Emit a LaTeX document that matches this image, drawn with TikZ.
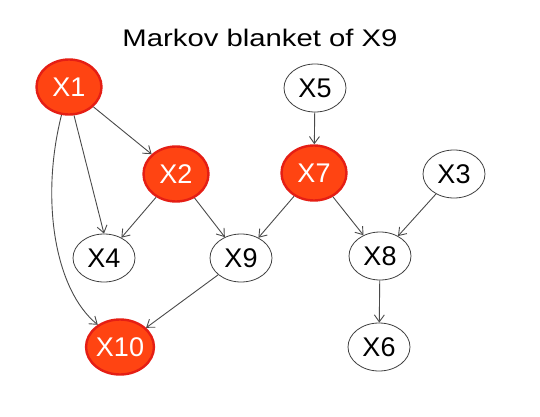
\documentclass[tikz,border=0pt]{standalone}
\usepackage{fontspec}
\setmainfont{Liberation Sans}
\usetikzlibrary{arrows.meta,shapes.geometric}
\definecolor{redfill}{HTML}{FF4412}
\definecolor{redborder}{HTML}{E51E14}
\definecolor{edgegray}{HTML}{4A4A4A}
\tikzset{
  rednode/.style={ellipse, draw=redborder, line width=2.4pt, fill=redfill, text=white,
    minimum width=65pt, minimum height=55pt, inner sep=0pt, font=\fontsize{27}{27}\selectfont},
  whitenode/.style={ellipse, draw=black!75, line width=0.8pt, fill=white, text=black,
    minimum width=62pt, minimum height=48pt, inner sep=0pt, font=\fontsize{27}{27}\selectfont},
  edge/.style={draw=edgegray, line width=0.9pt, -{Straight Barb[length=7pt,width=10pt]}}
}
\begin{document}
\begin{tikzpicture}[x=1pt,y=-1pt]
\useasboundingbox (0,0) rectangle (540,417);
\node (title) at (260,38) {\scalebox{1.22}[1]{\fontsize{24}{24}\selectfont Markov blanket of X9}};
\node[rednode] (X1) at (69,87) {X1};
\node[rednode] (X2) at (176,174) {X2};
\node[whitenode] (X5) at (315,88) {X5};
\node[rednode] (X7) at (314,173) {X7};
\node[whitenode] (X3) at (454,174) {X3};
\node[whitenode] (X4) at (104,258) {X4};
\node[whitenode] (X9) at (241,258) {X9};
\node[whitenode] (X8) at (380,256) {X8};
\node[rednode] (X10) at (120,347) {X10};
\node[whitenode] (X6) at (379,347) {X6};
\draw[edge] (X1) -- (X2);
\draw[edge] (X1.-80) -- (X4.north);
\draw[edge] (X1.-105) .. controls (40,200) and (55,290) .. (X10.135);
\draw[edge] (X2) -- (X4);
\draw[edge] (X2) -- (X9);
\draw[edge] (X5) -- (X7);
\draw[edge] (X7) -- (X9);
\draw[edge] (X7) -- (X8);
\draw[edge] (X3) -- (X8);
\draw[edge] (X8) -- (X6);
\draw[edge] (X9) -- (X10);
\end{tikzpicture}
\end{document}
